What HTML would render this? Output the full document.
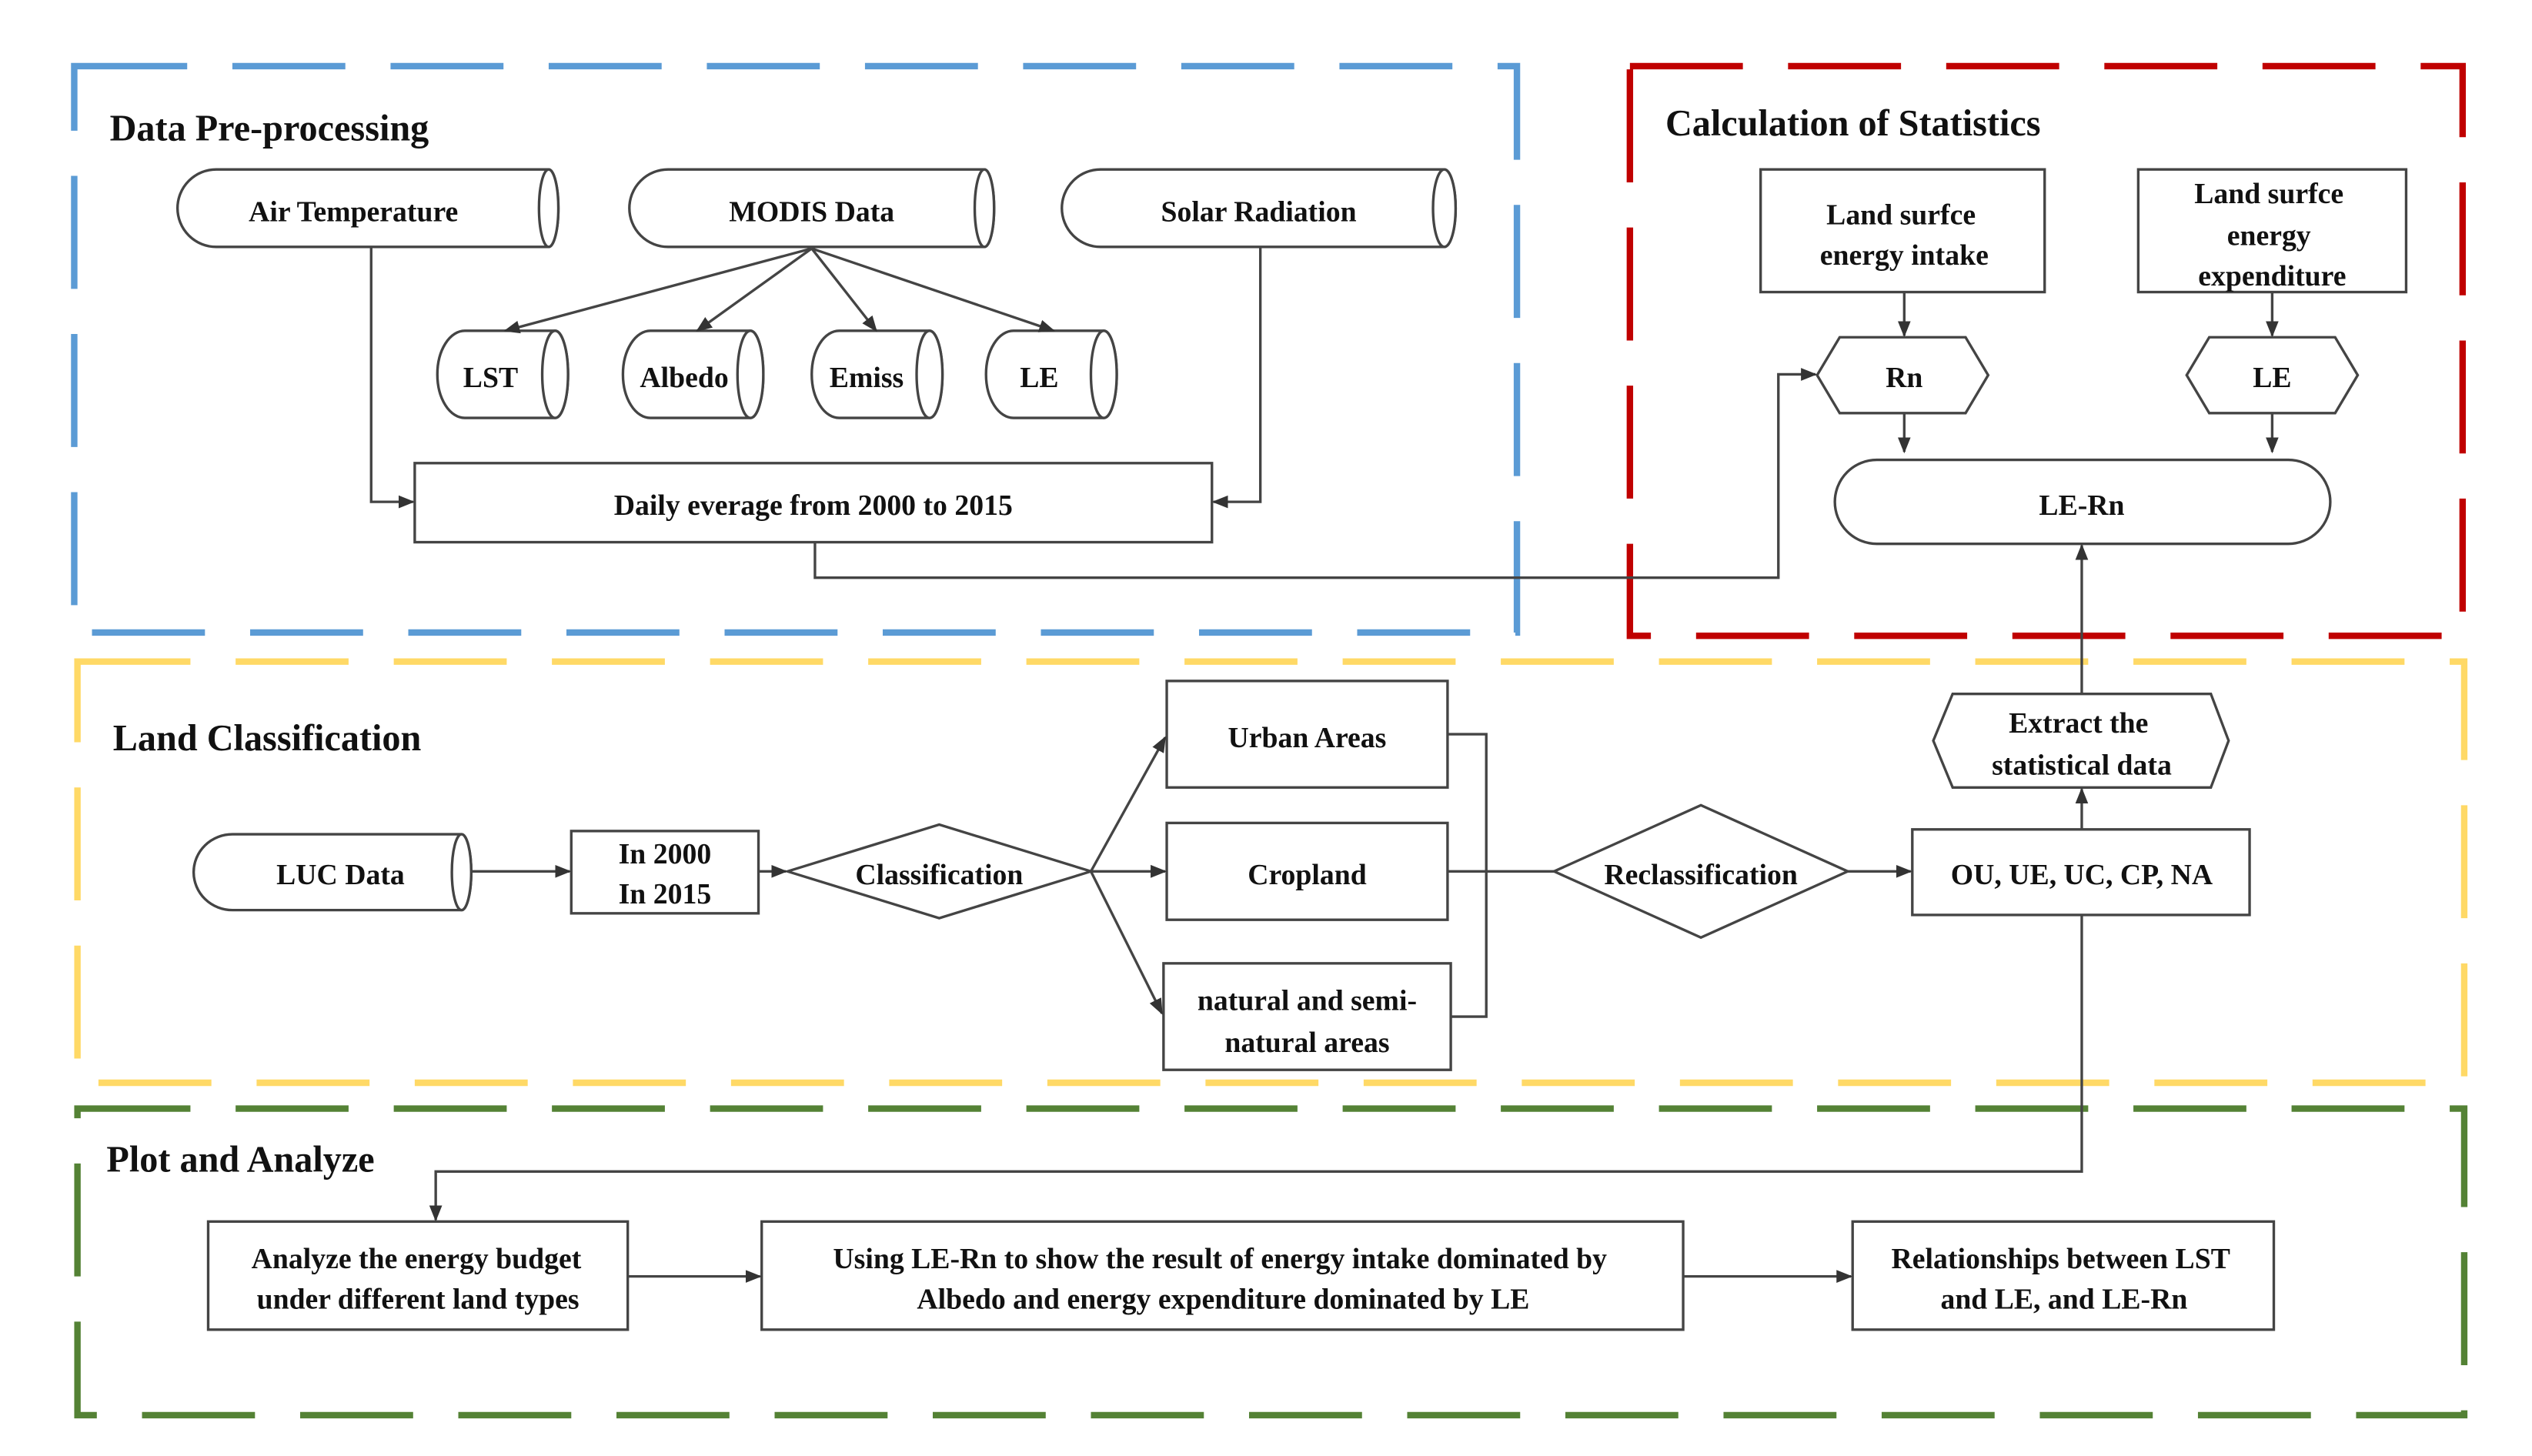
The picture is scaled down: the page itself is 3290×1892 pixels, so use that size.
<!DOCTYPE html>
<html><head><meta charset="utf-8"><style>
html,body{margin:0;padding:0;background:#fff;}
svg{display:block}
text{font-family:"Liberation Serif",serif;font-weight:bold;fill:#111;}
</style></head><body>
<svg width="3290" height="1892" viewBox="0 0 1569 902.3" preserveAspectRatio="none" xmlns="http://www.w3.org/2000/svg">
<defs>
<marker id="a" markerWidth="10" markerHeight="10" refX="9" refY="5" orient="auto" markerUnits="userSpaceOnUse"><path d="M0,1 L10,5 L0,9 z" fill="#333"/></marker>
</defs>
<rect width="1569" height="902.3" fill="#fff"/>
<g fill="none" stroke-width="4" stroke-dasharray="70,28">
<rect x="46" y="41" width="894" height="351" stroke="#5b9bd5"/>
<rect x="1010" y="41" width="516" height="353" stroke="#c00000"/>
<rect x="48" y="410" width="1479" height="261" stroke="#ffd966"/>
<rect x="48" y="687" width="1479" height="190" stroke="#548235"/>
</g>
<g font-size="23">
<text x="68" y="87">Data Pre-processing</text>
<text x="1032" y="84">Calculation of Statistics</text>
<text x="70" y="465">Land Classification</text>
<text x="66" y="726">Plot and Analyze</text>
</g>
<g fill="#fff" stroke="#444" stroke-width="1.6">
<path d="M134,105 H340 A6,24 0 0 1 340,153 H134 A24,24 0 0 1 134,105 z"/><ellipse cx="340" cy="129" rx="6" ry="24"/>
<path d="M414,105 H610 A6,24 0 0 1 610,153 H414 A24,24 0 0 1 414,105 z"/><ellipse cx="610" cy="129" rx="6" ry="24"/>
<path d="M682,105 H895 A7,24 0 0 1 895,153 H682 A24,24 0 0 1 682,105 z"/><ellipse cx="895" cy="129" rx="7" ry="24"/>
<path d="M288,205 H344 A8,27 0 0 1 344,259 H288 A17,27 0 0 1 288,205 z"/><ellipse cx="344" cy="232" rx="8" ry="27"/>
<path d="M403,205 H465 A8,27 0 0 1 465,259 H403 A17,27 0 0 1 403,205 z"/><ellipse cx="465" cy="232" rx="8" ry="27"/>
<path d="M520,205 H576 A8,27 0 0 1 576,259 H520 A17,27 0 0 1 520,205 z"/><ellipse cx="576" cy="232" rx="8" ry="27"/>
<path d="M628,205 H684 A8,27 0 0 1 684,259 H628 A17,27 0 0 1 628,205 z"/><ellipse cx="684" cy="232" rx="8" ry="27"/>
<path d="M144,517 H286 A6,23.5 0 0 1 286,564 H144 A24,23.5 0 0 1 144,517 z"/><ellipse cx="286" cy="540.5" rx="6" ry="23.5"/>
<rect x="257" y="287" width="494" height="49"/>
<rect x="1091" y="105" width="176" height="76"/>
<rect x="1325" y="105" width="166" height="76"/>
<rect x="1137" y="285" width="307" height="52" rx="26"/>
<polygon points="1126,232.5 1140,209 1218,209 1232,232.5 1218,256 1140,256"/>
<polygon points="1355,232.5 1369,209 1447,209 1461,232.5 1447,256 1369,256"/>
<polygon points="1198,459 1210,430 1370,430 1381,459 1370,488 1210,488"/>
<rect x="354" y="515" width="116" height="51"/>
<polygon points="488,540 582,511 676,540 582,569"/>
<rect x="723" y="422" width="174" height="66"/>
<rect x="723" y="510" width="174" height="60"/>
<rect x="721" y="597" width="178" height="66"/>
<polygon points="963,540 1054,499 1145,540 1054,581"/>
<rect x="1185" y="514" width="209" height="53"/>
<rect x="129" y="757" width="260" height="67"/>
<rect x="472" y="757" width="571" height="67"/>
<rect x="1148" y="757" width="261" height="67"/>
</g>
<g fill="none" stroke="#444" stroke-width="1.6">
<path d="M230,153 V311 H256" marker-end="url(#a)"/>
<path d="M781,153 V311 H752" marker-end="url(#a)"/>
<path d="M503,154 L313,205" marker-end="url(#a)"/>
<path d="M503,154 L432,205" marker-end="url(#a)"/>
<path d="M503,154 L543,205" marker-end="url(#a)"/>
<path d="M503,154 L653,205" marker-end="url(#a)"/>
<path d="M505,336 V358 H1102 V232 H1125" marker-end="url(#a)"/>
<path d="M1180,181 V208" marker-end="url(#a)"/>
<path d="M1180,256 V280" marker-end="url(#a)"/>
<path d="M1408,181 V208" marker-end="url(#a)"/>
<path d="M1408,256 V280" marker-end="url(#a)"/>
<path d="M1290,430 V338" marker-end="url(#a)"/>
<path d="M1290,514 V489" marker-end="url(#a)"/>
<path d="M292,540 H353" marker-end="url(#a)"/>
<path d="M470,540 H487" marker-end="url(#a)"/>
<path d="M676,540 L722,457" marker-end="url(#a)"/>
<path d="M676,540 H722" marker-end="url(#a)"/>
<path d="M676,540 L720,628" marker-end="url(#a)"/>
<path d="M897,455 H921 V630 H899"/>
<path d="M897,540 H963"/>
<path d="M1145,540 H1184" marker-end="url(#a)"/>
<path d="M1290,567 V726 H270 V756" marker-end="url(#a)"/>
<path d="M389,791 H471" marker-end="url(#a)"/>
<path d="M1043,791 H1147" marker-end="url(#a)"/>
</g>
<g font-size="18" text-anchor="middle">
<text x="219" y="137">Air  Temperature</text>
<text x="503" y="137">MODIS Data</text>
<text x="780" y="137">Solar Radiation</text>
<text x="304" y="240">LST</text>
<text x="424" y="240">Albedo</text>
<text x="537" y="240">Emiss</text>
<text x="644" y="240">LE</text>
<text x="504" y="319">Daily everage from 2000 to 2015</text>
<text x="1178" y="139">Land surfce</text>
<text x="1180" y="164">energy intake</text>
<text x="1406" y="126">Land surfce</text>
<text x="1406" y="152">energy</text>
<text x="1408" y="177">expenditure</text>
<text x="1180" y="240">Rn</text>
<text x="1408" y="240">LE</text>
<text x="1290" y="319">LE-Rn</text>
<text x="1288" y="454">Extract the</text>
<text x="1290" y="480">statistical data</text>
<text x="211" y="548">LUC Data</text>
<text x="412" y="535">In 2000</text>
<text x="412" y="560">In 2015</text>
<text x="582" y="548">Classification</text>
<text x="810" y="463">Urban Areas</text>
<text x="810" y="548">Cropland</text>
<text x="810" y="626">natural and semi-</text>
<text x="810" y="652">natural areas</text>
<text x="1054" y="548">Reclassification</text>
<text x="1290" y="548">OU, UE, UC, CP, NA</text>
<text x="258" y="786">Analyze the energy budget</text>
<text x="259" y="811">under different land types</text>
<text x="756" y="786">Using LE-Rn to show the result of energy intake dominated by</text>
<text x="758" y="811">Albedo and energy expenditure dominated by LE</text>
<text x="1277" y="786">Relationships between LST</text>
<text x="1279" y="811">and LE, and LE-Rn</text>
</g>
</svg>
</body></html>
